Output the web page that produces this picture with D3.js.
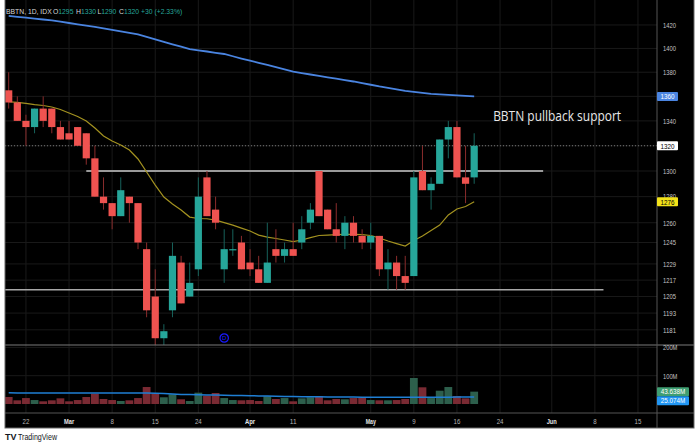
<!DOCTYPE html>
<html><head><meta charset="utf-8">
<script src="https://cdn.jsdelivr.net/npm/d3@7"></script>
<style>html,body{margin:0;padding:0;background:#fff;} svg{display:block;font-family:"Liberation Sans",Arial,sans-serif;}</style>
</head><body><svg id="c" width="700" height="447"></svg>
<script>
// ---- data ----
const opens  = [1365,1355,1340,1335,1350,1350,1335,1330,1335,1330, 1310,1280,1275,1265,1280,1275,1240,1205,1175,1195, 1230,1205,1225,1295,1270,1225,1240,1245,1230,1225, 1215,1240,1235,1240,1245,1260,1300,1270,1255,1250, 1260,1250,1245,1250,1225,1230,1220,1220,1300,1285, 1290,1325,1335,1295,1295];
const highs  = [1380,1360,1345,1350,1360,1350,1340,1340,1335,1330, 1320,1295,1275,1295,1280,1275,1245,1225,1185,1245, 1235,1230,1295,1300,1280,1255,1255,1250,1240,1235, 1260,1255,1245,1260,1265,1275,1300,1270,1275,1265, 1265,1255,1260,1250,1240,1235,1235,1300,1320,1295, 1325,1340,1340,1320,1330];
const lows   = [1350,1340,1320,1330,1335,1330,1325,1325,1320,1305, 1280,1270,1255,1265,1260,1240,1190,1170,1170,1190, 1200,1205,1220,1265,1255,1215,1235,1225,1220,1215, 1215,1230,1230,1235,1240,1255,1265,1255,1245,1240, 1245,1240,1240,1220,1210,1210,1210,1220,1285,1270, 1290,1310,1295,1275,1290];
const closes = [1355,1340,1335,1350,1340,1335,1325,1325,1320,1310, 1280,1275,1265,1285,1275,1245,1195,1175,1180,1235, 1200,1215,1280,1265,1260,1240,1240,1225,1225,1215, 1230,1235,1240,1235,1255,1270,1265,1255,1250,1260, 1250,1245,1250,1225,1230,1220,1215,1295,1285,1290, 1325,1335,1295,1290,1320];
const volumes = [24.7,13,21,14,9.5,13,20,9.5,14,24.7, 36.4,17.7,14,10.6,13,21,60,37.8,23.7,34.3, 16.6,10.6,40,29.3,38.9,21,14,13,14,10.6, 27.2,17.7,21,9.5,20,23.7,28.3,13,17.7,16.6, 21,23.7,14,13,13,14,17.7,91.9,59,21, 47,60,28.3,20,43.638];
const ma20 = [1355.6,1355.0,1354.2,1353.2,1352.5,1351.3,1349.3,1346.4,1343.6,1339.9, 1334.2,1327.8,1323.8,1320.6,1316.6,1309.5,1299.2,1289.0,1279.7,1274.3, 1269.7,1264.3,1263.2,1263.0,1262.0,1260.1,1258.2,1255.9,1253.7,1250.6, 1249.1,1248.0,1246.9,1245.7,1246.9,1248.7,1250.3,1250.6,1251.0,1251.2, 1251.2,1251.0,1250.3,1248.4,1246.1,1244.2,1242.3,1246.5,1249.9,1254.1, 1258.2,1265.9,1270.5,1272.4,1276.0];
const ma200 = [1427.8,1427.0,1426.3,1425.5,1424.7,1423.9,1422.8,1421.7,1420.6,1419.4, 1418.3,1417.0,1415.7,1414.5,1413.2,1411.9,1409.8,1407.6,1405.5,1403.5, 1401.5,1399.5,1398.4,1397.4,1396.3,1395.3,1393.4,1391.5,1389.7,1387.9, 1386.1,1384.2,1382.4,1380.5,1379.3,1378.1,1376.9,1375.8,1374.6,1373.5, 1372.3,1370.9,1369.6,1368.2,1367.0,1365.7,1364.5,1363.7,1362.8,1362.0, 1361.6,1361.2,1360.8,1360.4,1360.0];
const volMa = [39.5,39.3,39.2,39.1,39.0,39.0,38.9,38.9,38.9,38.9, 38.9,38.9,38.9,38.8,38.8,38.7,38.6,38.3,37.0,35.5, 34.0,33.5,33.0,32.2,31.4,30.7,30.2,29.8,29.3,28.6, 27.9,27.2,26.7,26.3,25.8,25.5,25.2,24.9,24.7,24.5, 24.3,24.1,24.0,24.0,24.0,24.0,24.0,24.0,24.0,24.0, 24.0,24.2,24.5,24.8,25.074];
const priceTicks = [1420,1400,1380,1360,1340,1320,1300,1280,1260,1245,1229,1217,1205,1193,1181];
const volTicks = [100,200];
const timeTickIdx = [2,7,12,17,22,28,33,42,47,52,57,63,68,73];
const timeTickLabels = ["22","Mar","8","15","24","Apr","11","May","9","16","24","Jun","8","15"];
const monthLabels = ["Mar","Apr","May","Jun"];
const levels = [{price:1300, from:9, to:62}, {price:1210, from:-1, to:69}];
const annotation = {text:"BBTN pullback support", idx:56.2, price:1340};
const dividendIdx = 25;
const header = {sym:"BBTN, 1D, IDX", o:1295, h:1330, l:1290, c:1320, chg:"+30 (+2.33%)"};

// ---- layout ----
const svg = d3.select("#c");
const F = {l:5, r:694, t:0, b:428};
const axisX = 657, paneB = 345, volTop = 345, timeTop = 413;
const RED="#ef5350", GREEN="#26a69a";
const CW = 3.25; // narrow glyph width for small labels

svg.append("rect").attr("x",F.l).attr("y",F.t).attr("width",F.r-F.l).attr("height",F.b-F.t).attr("fill","#000");

const x = d3.scaleLinear().domain([0,74]).range([8.7, 8.7+8.62*74]);
const y = d3.scaleLog().domain([1170.2,1441.6]).range([paneB,0]);
const yv = d3.scaleLinear().domain([0,200]).range([404,347.4]);

const defs = svg.append("defs");
defs.append("clipPath").attr("id","mainClip").append("rect").attr("x",F.l).attr("y",0).attr("width",axisX-F.l).attr("height",paneB);
defs.append("clipPath").attr("id","volClip").append("rect").attr("x",F.l).attr("y",volTop).attr("width",axisX-F.l).attr("height",timeTop-volTop);

function narrow(sel, s, per){ // fit small text to the reference's narrow glyphs
  sel.attr("textLength", String(s).length*(per||CW)).attr("lengthAdjust","spacingAndGlyphs");
}

// grid
const grid = svg.append("g");
grid.selectAll("line.v").data(timeTickIdx).join("line")
  .attr("x1",d=>x(d)).attr("x2",d=>x(d)).attr("y1",0).attr("y2",timeTop)
  .attr("stroke","#191919").attr("stroke-width",1);
grid.selectAll("line.h").data(priceTicks).join("line")
  .attr("x1",F.l).attr("x2",axisX).attr("y1",d=>y(d)).attr("y2",d=>y(d))
  .attr("stroke","#191919").attr("stroke-width",1);
grid.selectAll("line.hv").data(volTicks).join("line")
  .attr("x1",F.l).attr("x2",axisX).attr("y1",d=>yv(d)).attr("y2",d=>yv(d))
  .attr("stroke","#191919").attr("stroke-width",1);

const main = svg.append("g").attr("clip-path","url(#mainClip)");

// current price dotted line
const last = closes.length-1;
main.append("line").attr("x1",F.l).attr("x2",axisX).attr("y1",y(closes[last])).attr("y2",y(closes[last]))
  .attr("stroke","#777").attr("stroke-dasharray","1,2").attr("stroke-width",1);

// level lines
main.selectAll("line.lvl").data(levels).join("line")
  .attr("x1",d=>x(d.from)).attr("x2",d=>x(d.to)).attr("y1",d=>y(d.price)).attr("y2",d=>y(d.price))
  .attr("stroke",(d,i)=>i===0?"#9a9a9a":"#a8a8a8").attr("stroke-width",(d,i)=>i===0?2:1.5);

// MA200
main.append("path").datum(ma200).attr("fill","none").attr("stroke","#4a84e0").attr("stroke-width",1.8)
  .attr("d",d3.line().x((d,i)=>x(i)).y(d=>y(d)));
// MA20
main.append("path").datum(ma20).attr("fill","none").attr("stroke","#a39220").attr("stroke-width",1.2)
  .attr("d",d3.line().x((d,i)=>x(i)).y(d=>y(d)));

// candles
const idx = d3.range(closes.length);
const up = i => closes[i] >= opens[i];
main.selectAll("line.wick").data(idx).join("line")
  .attr("x1",i=>x(i)).attr("x2",i=>x(i)).attr("y1",i=>y(highs[i])).attr("y2",i=>y(lows[i]))
  .attr("stroke",i=>up(i)?"#17625b":"#8a2c2c").attr("stroke-width",1);
main.selectAll("rect.body").data(idx).join("rect")
  .attr("x",i=>x(i)-3.6).attr("width",7.2)
  .attr("y",i=>y(Math.max(opens[i],closes[i])))
  .attr("height",i=>Math.max(1.2, y(Math.min(opens[i],closes[i]))-y(Math.max(opens[i],closes[i]))))
  .attr("fill",i=>up(i)?GREEN:RED);

// dividend marker
const dv = main.append("g").attr("transform",`translate(${x(dividendIdx)},${paneB-7})`);
dv.append("circle").attr("r",4.2).attr("fill","none").attr("stroke","#1a1aff").attr("stroke-width",1.2);
dv.append("text").attr("text-anchor","middle").attr("y",2.3).attr("font-size",6).attr("fill","#1a1aff").text("D");

// annotation
main.append("text").attr("x",x(annotation.idx)).attr("y",y(annotation.price))
  .attr("fill","#e8e8e8").attr("font-size",14).attr("font-family","'Open Sans',sans-serif")
  .attr("textLength",128).attr("lengthAdjust","spacingAndGlyphs").text(annotation.text);

// volume pane
const vol = svg.append("g").attr("clip-path","url(#volClip)");
vol.selectAll("rect").data(idx).join("rect")
  .attr("x",i=>x(i)-3.9).attr("width",7.8)
  .attr("y",i=>yv(volumes[i])).attr("height",i=>yv(0)-yv(volumes[i]))
  .attr("fill",i=>up(i)?"#2d5f4c":"#7a2a33");
vol.append("path").datum(volMa).attr("fill","none").attr("stroke","#1f7fd4").attr("stroke-width",1.5)
  .attr("d",d3.line().x((d,i)=>x(i)).y(d=>yv(d)));

// separators
svg.append("line").attr("x1",F.l).attr("x2",F.r).attr("y1",paneB).attr("y2",paneB).attr("stroke","#7a7a7a");
svg.append("line").attr("x1",F.l).attr("x2",F.r).attr("y1",timeTop).attr("y2",timeTop).attr("stroke","#555");
svg.append("line").attr("x1",axisX).attr("x2",axisX).attr("y1",0).attr("y2",F.b).attr("stroke","#555");
svg.append("rect").attr("x",F.l).attr("y",F.t-1).attr("width",F.r-F.l).attr("height",F.b-F.t+1).attr("fill","none").attr("stroke","#666");

// price axis labels (1280 partly hidden under the MA20 box, as in the reference)
const boxed = [Math.round(ma200[last]), closes[last]];
svg.append("g").selectAll("text").data(priceTicks.filter(t=>!boxed.includes(t))).join("text")
  .attr("x",axisX+6).attr("y",d=>y(d)+2.8).attr("font-size",8)
  .attr("fill","#c4c4c4").text(d=>d).each(function(d){narrow(d3.select(this),d);});
svg.append("g").selectAll("text").data(volTicks).join("text")
  .attr("x",axisX+6).attr("y",d=>yv(d)+2.8).attr("font-size",8)
  .attr("fill","#c4c4c4").text(d=>d+"M").each(function(d){narrow(d3.select(this),d+"M",3.6);});

function box(val, yc, fill, color, w){
  const g = svg.append("g");
  g.append("rect").attr("x",axisX).attr("y",yc-4.5).attr("width",w).attr("height",9).attr("fill",fill).attr("rx",1);
  const t = g.append("text").attr("x",axisX+w/2).attr("y",yc+2.8).attr("text-anchor","middle").attr("font-size",8)
    .attr("fill",color).text(val);
  narrow(t, val, 3.5);
}
box(Math.round(ma200[last]), y(ma200[last]), "#4a84e0", "#fff", 21);
box(closes[last], y(closes[last]), "#ffffff", "#000", 21);
box(Math.round(ma20[last]), y(ma20[last]), "#f2e21a", "#000", 21);
const gv = yv(volumes[last]);
box(volumes[last].toFixed(3)+"M", gv, "#3f9e72", "#fff", 32);
box(volMa[last].toFixed(3)+"M", Math.max(yv(volMa[last]), gv+9), "#2196f3", "#fff", 32);

// time axis labels
svg.append("g").selectAll("text").data(timeTickIdx).join("text")
  .attr("x",d=>x(d)).attr("y",424).attr("text-anchor","middle").attr("font-size",8)
  .attr("font-weight",(d,i)=>monthLabels.includes(timeTickLabels[i])?"bold":"normal")
  .attr("fill",(d,i)=>monthLabels.includes(timeTickLabels[i])?"#e6e6e6":"#b4b4b4")
  .text((d,i)=>timeTickLabels[i])
  .each(function(d,i){narrow(d3.select(this),timeTickLabels[i],3.4);});

// header: one text per group, the letter and its value as tspans
const hparts = [
  {k:header.sym, v:"", x:6},
  {k:"O", v:String(header.o), x:53},
  {k:"H", v:String(header.h), x:76},
  {k:"L", v:String(header.l), x:97.5},
  {k:"C", v:String(header.c), x:119},
  {k:"", v:header.chg, x:141}
];
svg.append("g").selectAll("text").data(hparts).join("text")
  .attr("x",d=>d.x).attr("y",13.5).attr("font-size",6.8)
  .each(function(d){
    const t = d3.select(this);
    if (d.k) t.append("tspan").attr("fill","#d8d8d8").text(d.k);
    if (d.v) t.append("tspan").attr("fill",GREEN).text(d.v);
  });

// footer logo
const fg = svg.append("g");
fg.append("text").attr("x",5).attr("y",440).attr("font-size",9).attr("font-weight","bold").attr("fill","#131722").text("TV");
fg.append("text").attr("x",18).attr("y",440).attr("font-size",8.5).attr("fill","#131722")
  .attr("textLength",39).attr("lengthAdjust","spacingAndGlyphs").text("TradingView");
</script></body></html>
